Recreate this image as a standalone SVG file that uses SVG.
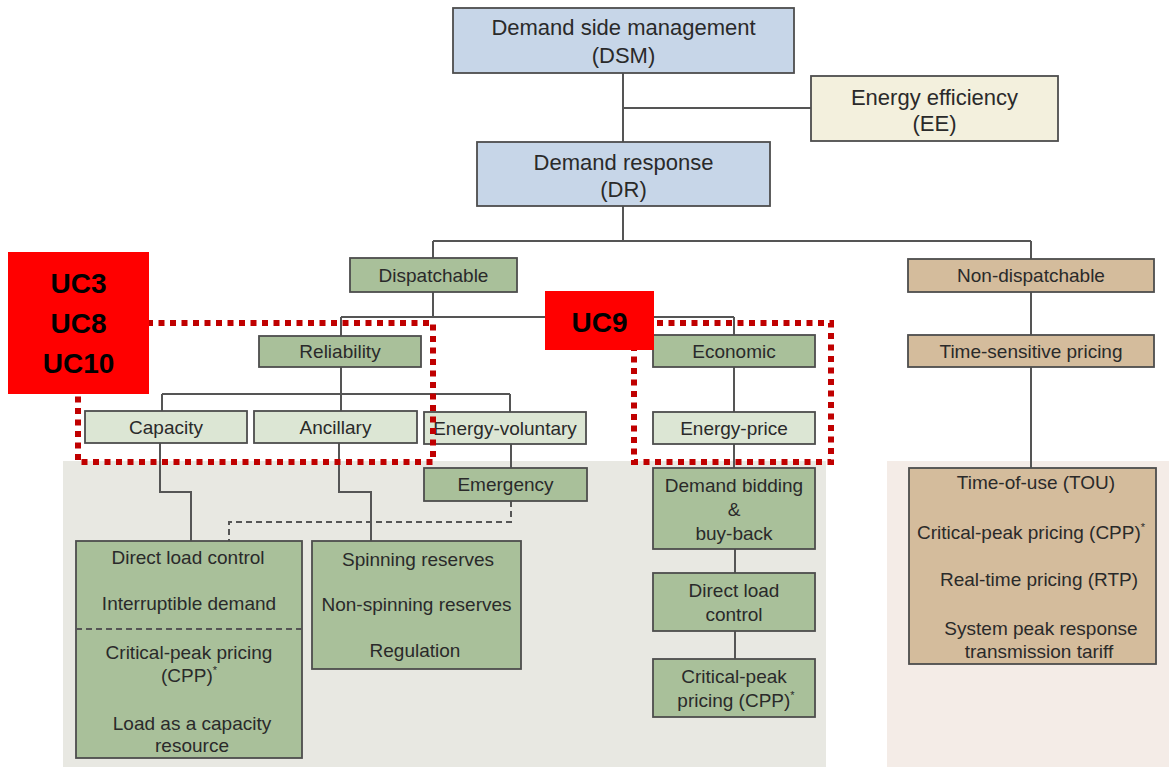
<svg xmlns="http://www.w3.org/2000/svg" width="1169" height="767" viewBox="0 0 1169 767">
  <style>
    text { font-family: "Liberation Sans", Arial, sans-serif; fill: #2a2a2a; text-anchor: middle; }
    .t22 { font-size: 22px; }
    .t19 { font-size: 19px; }
    .uc { font-size: 28px; font-weight: bold; fill: #000; }
    .sup { font-size: 11px; }
    .box { stroke: #4d4d4d; stroke-width: 1.8; }
    .blue { fill: #c7d6e8; }
    .cream { fill: #f3f0dd; }
    .dark { fill: #a9c09a; }
    .light { fill: #dce6d4; }
    .tan { fill: #d4bc9c; }
    .wire { fill: none; stroke: #555; stroke-width: 2; }
    .dash { fill: none; stroke: #555; stroke-width: 2; stroke-dasharray: 6 4; }
    .zone { fill: none; stroke: #c00000; stroke-width: 6; stroke-dasharray: 6 5.5; }
    .tag { fill: #ff0000; }
  </style>

  <rect width="1169" height="767" fill="#ffffff"/>

  <!-- program area backgrounds -->
  <g id="backgrounds">
    <rect x="63" y="461" width="763" height="306" fill="#e8e8e2"/>
    <rect x="887" y="461" width="282" height="306" fill="#f4ece7"/>
  </g>

  <!-- tree connectors -->
  <g id="connectors">
    <path class="wire" d="M623 73V142 M623 108H811 M623 206V241 M433 241H1031 M433 241V258 M1031 241V259"/>
    <path class="wire" d="M433 292V317 M341 317H734 M341 317V336 M734 317V335"/>
    <path class="wire" d="M341 367V394 M162 394H510 M162 394V411 M341 394V411 M510 394V412"/>
    <path class="wire" d="M160 443V492H191V541 M339 443V492H371V541"/>
    <path class="wire" d="M511 444V468"/>
    <path class="dash" d="M511 501V522H229V541"/>
    <path class="wire" d="M734 367V412 M734 444V468 M735 549V573 M735 631V659"/>
    <path class="wire" d="M1031 292V335 M1031 367V468"/>
  </g>

  <g id="dsm">
    <rect class="box blue" x="453" y="8" width="341" height="65"/>
    <text class="t22" x="623.5" y="35">Demand side management</text>
    <text class="t22" x="623.5" y="63">(DSM)</text>
  </g>

  <g id="ee">
    <rect class="box cream" x="811" y="76" width="247" height="65"/>
    <text class="t22" x="934.5" y="105">Energy efficiency</text>
    <text class="t22" x="934.5" y="131">(EE)</text>
  </g>

  <g id="dr">
    <rect class="box blue" x="477" y="142" width="293" height="64"/>
    <text class="t22" x="623.5" y="170">Demand response</text>
    <text class="t22" x="623.5" y="197">(DR)</text>
  </g>

  <g id="dispatchable">
    <rect class="box dark" x="350" y="258" width="167" height="34"/>
    <text class="t19" x="433.5" y="282">Dispatchable</text>
  </g>

  <g id="non-dispatchable">
    <rect class="box tan" x="908" y="259" width="246" height="33"/>
    <text class="t19" x="1031" y="282">Non-dispatchable</text>
  </g>

  <g id="reliability">
    <rect class="box dark" x="259" y="336" width="162" height="31"/>
    <text class="t19" x="340" y="358">Reliability</text>
  </g>

  <g id="economic">
    <rect class="box dark" x="653" y="335" width="162" height="32"/>
    <text class="t19" x="734" y="358">Economic</text>
  </g>

  <g id="time-sensitive">
    <rect class="box tan" x="908" y="335" width="246" height="32"/>
    <text class="t19" x="1031" y="358">Time-sensitive pricing</text>
  </g>

  <g id="capacity">
    <rect class="box light" x="85" y="411" width="162" height="32"/>
    <text class="t19" x="166" y="434">Capacity</text>
  </g>

  <g id="ancillary">
    <rect class="box light" x="254" y="411" width="163" height="32"/>
    <text class="t19" x="335.5" y="434">Ancillary</text>
  </g>

  <g id="energy-voluntary">
    <rect class="box light" x="424" y="412" width="162" height="32"/>
    <text class="t19" x="505" y="435">Energy-voluntary</text>
  </g>

  <g id="energy-price">
    <rect class="box light" x="653" y="412" width="162" height="32"/>
    <text class="t19" x="734" y="435">Energy-price</text>
  </g>

  <g id="emergency">
    <rect class="box dark" x="424" y="468" width="163" height="33"/>
    <text class="t19" x="505.5" y="491">Emergency</text>
  </g>

  <g id="capacity-programs">
    <rect class="box dark" x="76" y="541" width="226" height="217"/>
    <line class="dash" x1="76" y1="629" x2="302" y2="629"/>
    <text class="t19" x="188" y="564">Direct load control</text>
    <text class="t19" x="189" y="610">Interruptible demand</text>
    <text class="t19" x="189" y="659">Critical-peak pricing</text>
    <text class="t19" x="189" y="682">(CPP)<tspan class="sup" dy="-8">*</tspan></text>
    <text class="t19" x="192" y="730">Load as a capacity</text>
    <text class="t19" x="192" y="752">resource</text>
  </g>

  <g id="ancillary-programs">
    <rect class="box dark" x="312" y="541" width="209" height="128"/>
    <text class="t19" x="418" y="566">Spinning reserves</text>
    <text class="t19" x="416.5" y="611">Non-spinning reserves</text>
    <text class="t19" x="415" y="657">Regulation</text>
  </g>

  <g id="demand-bidding">
    <rect class="box dark" x="653" y="468" width="162" height="81"/>
    <text class="t19" x="734" y="492">Demand bidding</text>
    <text class="t19" x="734" y="516">&amp;</text>
    <text class="t19" x="734" y="540">buy-back</text>
  </g>

  <g id="direct-load-control">
    <rect class="box dark" x="653" y="573" width="162" height="58"/>
    <text class="t19" x="734" y="597">Direct load</text>
    <text class="t19" x="734" y="621">control</text>
  </g>

  <g id="economic-cpp">
    <rect class="box dark" x="653" y="659" width="162" height="58"/>
    <text class="t19" x="734" y="683">Critical-peak</text>
    <text class="t19" x="736" y="707">pricing (CPP)<tspan class="sup" dy="-8">*</tspan></text>
  </g>

  <g id="pricing-programs">
    <rect class="box tan" x="909" y="468" width="247" height="196"/>
    <text class="t19" x="1036" y="489">Time-of-use (TOU)</text>
    <text class="t19" x="1031" y="539">Critical-peak pricing (CPP)<tspan class="sup" dy="-8">*</tspan></text>
    <text class="t19" x="1039" y="586">Real-time pricing (RTP)</text>
    <text class="t19" x="1041" y="635">System peak response</text>
    <text class="t19" x="1039" y="658">transmission tariff</text>
  </g>

  <!-- use-case scopes -->
  <g id="scope-reliability">
    <rect class="zone" x="78" y="323" width="355" height="139"/>
  </g>
  <g id="scope-economic">
    <rect class="zone" x="634" y="323" width="197" height="139"/>
  </g>

  <g id="tag-uc3-uc8-uc10">
    <rect class="tag" x="8" y="252" width="141" height="142"/>
    <text class="uc" x="78.5" y="293">UC3</text>
    <text class="uc" x="78.5" y="333">UC8</text>
    <text class="uc" x="78.5" y="373">UC10</text>
  </g>

  <g id="tag-uc9">
    <rect class="tag" x="545" y="291" width="109" height="59"/>
    <text class="uc" x="599.5" y="332">UC9</text>
  </g>
</svg>
